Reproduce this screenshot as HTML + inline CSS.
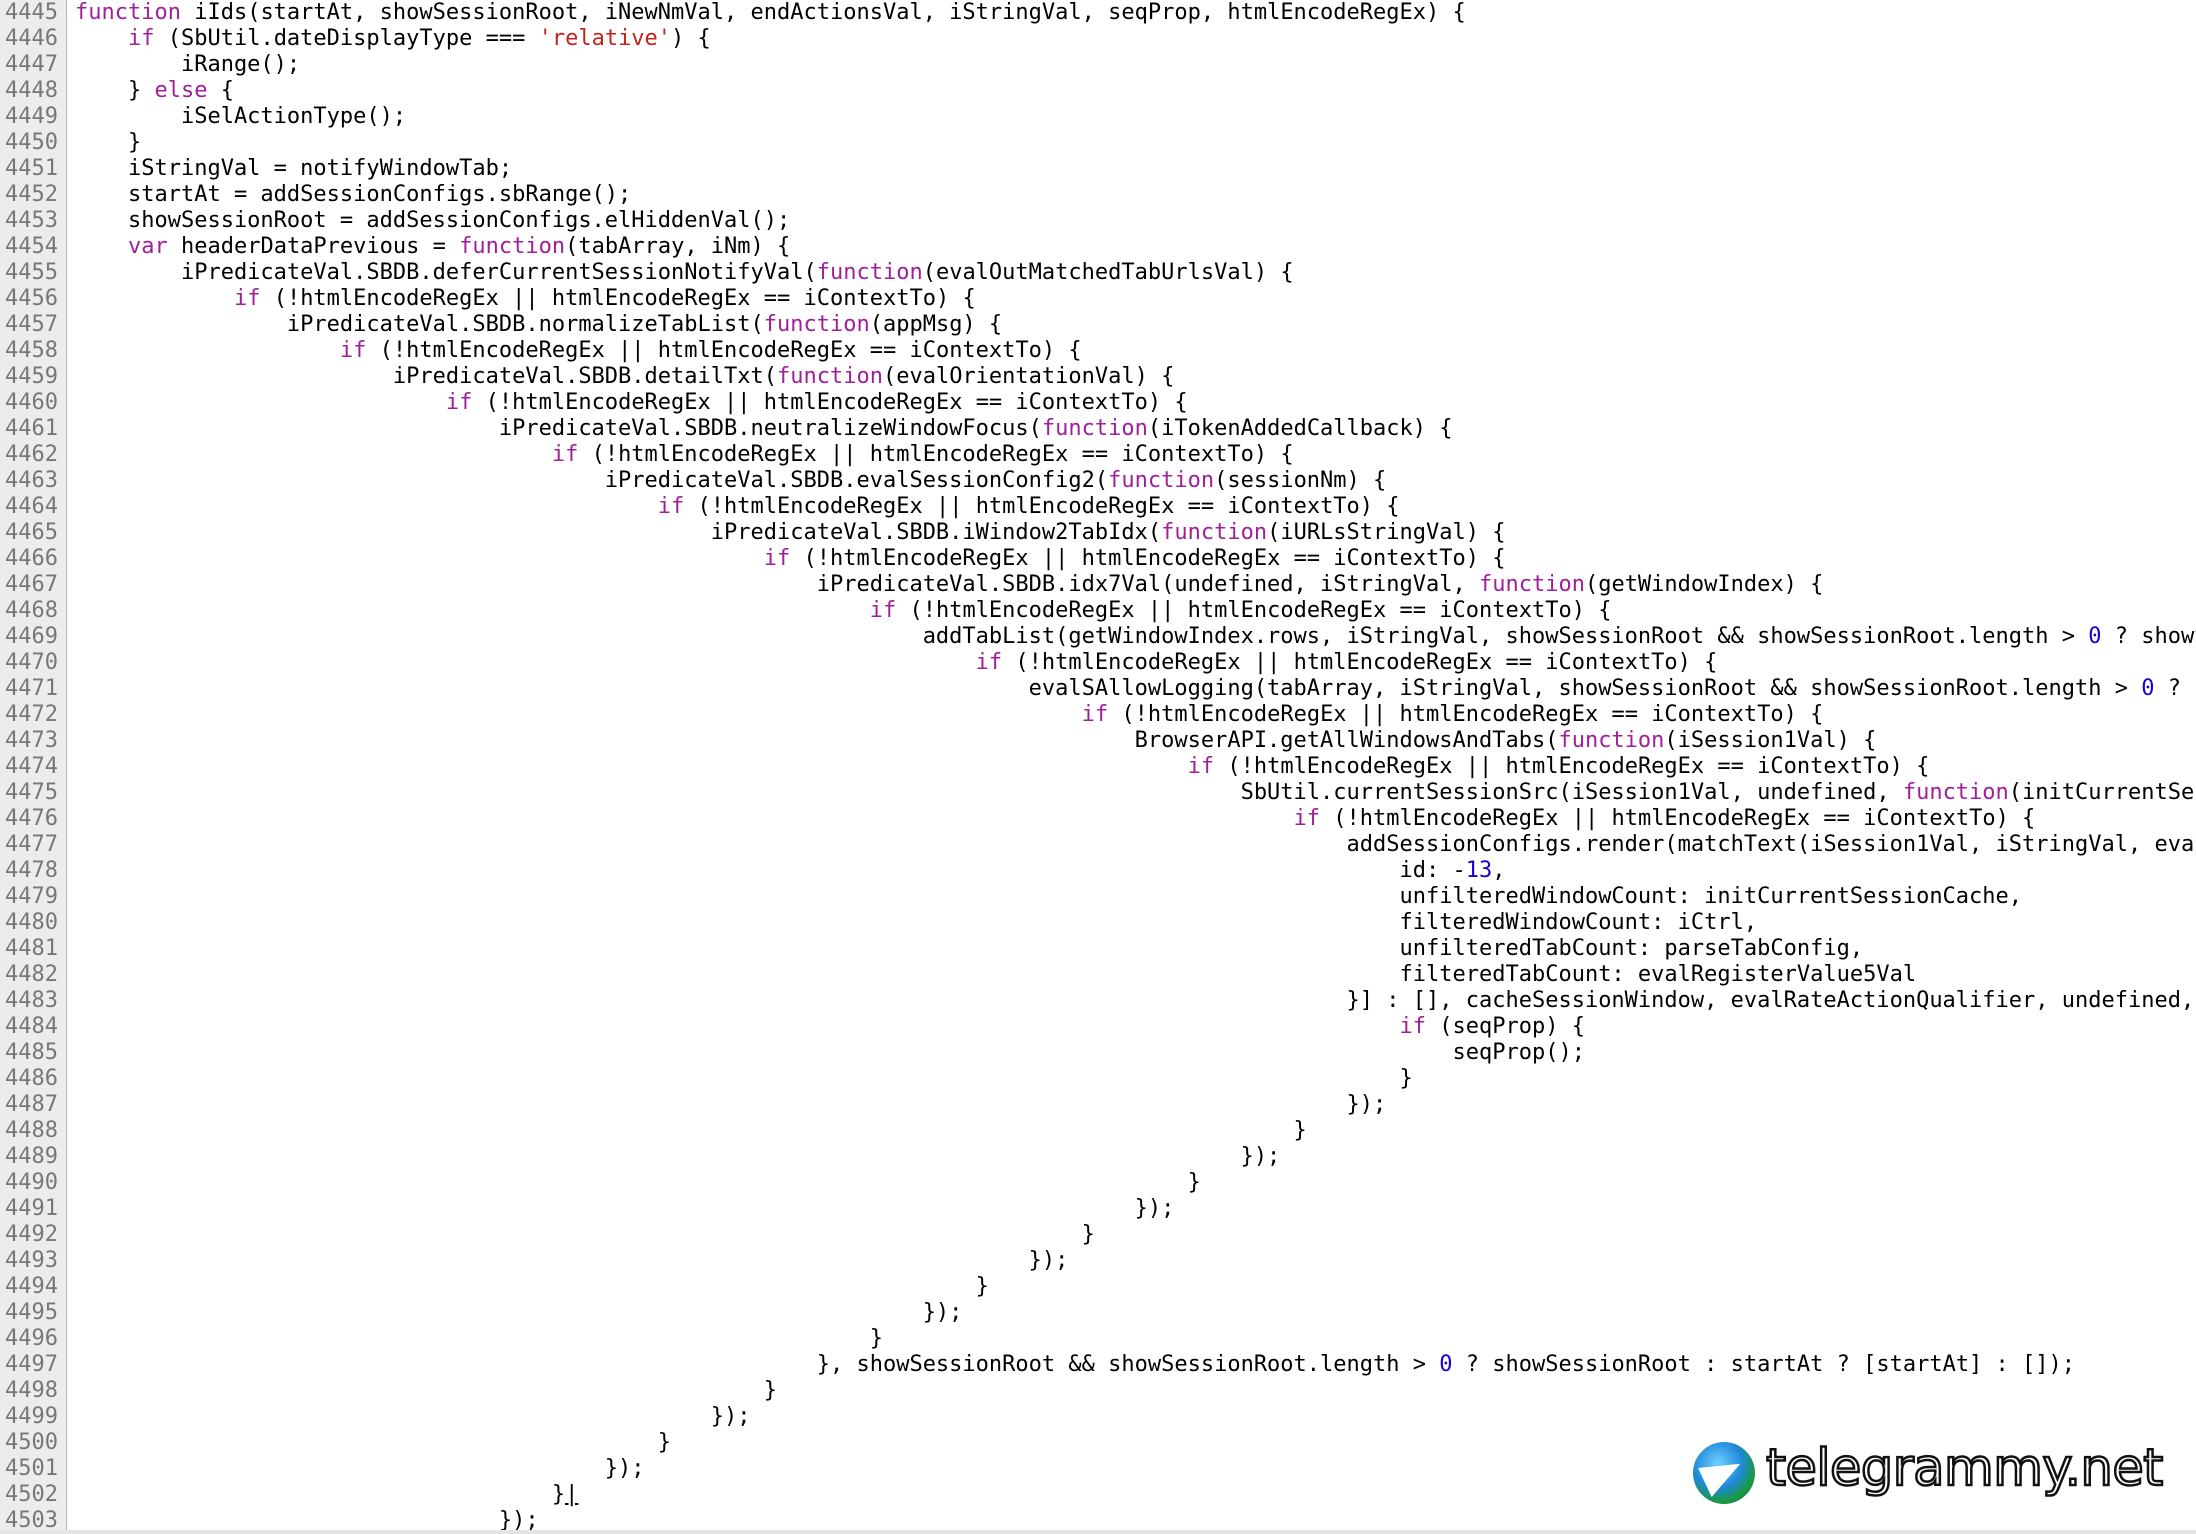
<!DOCTYPE html>
<html><head><meta charset="utf-8"><style>
html,body{margin:0;padding:0;width:2196px;height:1534px;overflow:hidden;background:#fff}
#g{position:absolute;left:0;top:0;width:66px;height:1534px;background:#ececec;border-right:1px solid #b8b8b8}
.n{position:absolute;right:4px;color:#777;font:22px/26px "DejaVu Sans Mono","Liberation Mono",monospace}
#c{position:absolute;left:75px;top:0;width:2121px;overflow:hidden;font:22px/26px "DejaVu Sans Mono","Liberation Mono",monospace;color:#000;white-space:pre;margin:0}
.k{color:#a0209a}.s{color:#c4221a}.d{color:#1c00cf}
#logo{position:absolute;left:1693px;top:1442px;width:62px;height:62px;border-radius:50%;background:radial-gradient(circle at 40% 35%,#6fd0ff,#1e88d8 45%,#1a9a3a 70%,#0b4fa0)}
#logo:after{content:"";position:absolute;left:10px;top:16px;border-left:40px solid #fff;border-top:14px solid transparent;border-bottom:18px solid transparent;transform:rotate(-25deg)}
#wrap{position:absolute;left:1766px;top:1436px;width:410px;height:70px;overflow:hidden}
#t{font:51px/66px "DejaVu Sans","Liberation Sans",sans-serif;color:#fff;-webkit-text-stroke:2.5px #111;letter-spacing:-0.5px;white-space:nowrap}
#b{position:absolute;left:0;top:1530px;width:2196px;height:4px;background:#e4e4e4}
</style></head><body>
<div id="g"></div>
<pre id="c"><span class="k">function</span> iIds(startAt, showSessionRoot, iNewNmVal, endActionsVal, iStringVal, seqProp, htmlEncodeRegEx) {
    <span class="k">if</span> (SbUtil.dateDisplayType === <span class="s">'relative'</span>) {
        iRange();
    } <span class="k">else</span> {
        iSelActionType();
    }
    iStringVal = notifyWindowTab;
    startAt = addSessionConfigs.sbRange();
    showSessionRoot = addSessionConfigs.elHiddenVal();
    <span class="k">var</span> headerDataPrevious = <span class="k">function</span>(tabArray, iNm) {
        iPredicateVal.SBDB.deferCurrentSessionNotifyVal(<span class="k">function</span>(evalOutMatchedTabUrlsVal) {
            <span class="k">if</span> (!htmlEncodeRegEx || htmlEncodeRegEx == iContextTo) {
                iPredicateVal.SBDB.normalizeTabList(<span class="k">function</span>(appMsg) {
                    <span class="k">if</span> (!htmlEncodeRegEx || htmlEncodeRegEx == iContextTo) {
                        iPredicateVal.SBDB.detailTxt(<span class="k">function</span>(evalOrientationVal) {
                            <span class="k">if</span> (!htmlEncodeRegEx || htmlEncodeRegEx == iContextTo) {
                                iPredicateVal.SBDB.neutralizeWindowFocus(<span class="k">function</span>(iTokenAddedCallback) {
                                    <span class="k">if</span> (!htmlEncodeRegEx || htmlEncodeRegEx == iContextTo) {
                                        iPredicateVal.SBDB.evalSessionConfig2(<span class="k">function</span>(sessionNm) {
                                            <span class="k">if</span> (!htmlEncodeRegEx || htmlEncodeRegEx == iContextTo) {
                                                iPredicateVal.SBDB.iWindow2TabIdx(<span class="k">function</span>(iURLsStringVal) {
                                                    <span class="k">if</span> (!htmlEncodeRegEx || htmlEncodeRegEx == iContextTo) {
                                                        iPredicateVal.SBDB.idx7Val(undefined, iStringVal, <span class="k">function</span>(getWindowIndex) {
                                                            <span class="k">if</span> (!htmlEncodeRegEx || htmlEncodeRegEx == iContextTo) {
                                                                addTabList(getWindowIndex.rows, iStringVal, showSessionRoot &amp;&amp; showSessionRoot.length &gt; <span class="d">0</span> ? showSessionRoot
                                                                    <span class="k">if</span> (!htmlEncodeRegEx || htmlEncodeRegEx == iContextTo) {
                                                                        evalSAllowLogging(tabArray, iStringVal, showSessionRoot &amp;&amp; showSessionRoot.length &gt; <span class="d">0</span> ? showSessionRoot
                                                                            <span class="k">if</span> (!htmlEncodeRegEx || htmlEncodeRegEx == iContextTo) {
                                                                                BrowserAPI.getAllWindowsAndTabs(<span class="k">function</span>(iSession1Val) {
                                                                                    <span class="k">if</span> (!htmlEncodeRegEx || htmlEncodeRegEx == iContextTo) {
                                                                                        SbUtil.currentSessionSrc(iSession1Val, undefined, <span class="k">function</span>(initCurrentSessionCache
                                                                                            <span class="k">if</span> (!htmlEncodeRegEx || htmlEncodeRegEx == iContextTo) {
                                                                                                addSessionConfigs.render(matchText(iSession1Val, iStringVal, evalOutMatched
                                                                                                    id: -<span class="d">13</span>,
                                                                                                    unfilteredWindowCount: initCurrentSessionCache,
                                                                                                    filteredWindowCount: iCtrl,
                                                                                                    unfilteredTabCount: parseTabConfig,
                                                                                                    filteredTabCount: evalRegisterValue5Val
                                                                                                }] : [], cacheSessionWindow, evalRateActionQualifier, undefined, iNewNmVal
                                                                                                    <span class="k">if</span> (seqProp) {
                                                                                                        seqProp();
                                                                                                    }
                                                                                                });
                                                                                            }
                                                                                        });
                                                                                    }
                                                                                });
                                                                            }
                                                                        });
                                                                    }
                                                                });
                                                            }
                                                        }, showSessionRoot &amp;&amp; showSessionRoot.length &gt; <span class="d">0</span> ? showSessionRoot : startAt ? [startAt] : []);
                                                    }
                                                });
                                            }
                                        });
                                    }<span style="text-decoration:underline">|</span>
                                });</pre>
<div id="logo"></div>
<div id="wrap"><div id="t">telegrammy.net</div></div>
<div id="b"></div>
<script>
var h='';for(var i=0;i<59;i++){h+='<div class="n" style="top:'+(i*26)+'px">'+(4445+i)+'</div>';}
var d=document.createElement('div');d.style.cssText='position:absolute;left:0;top:0;width:62px';d.innerHTML=h;document.body.appendChild(d);
</script>
</body></html>
